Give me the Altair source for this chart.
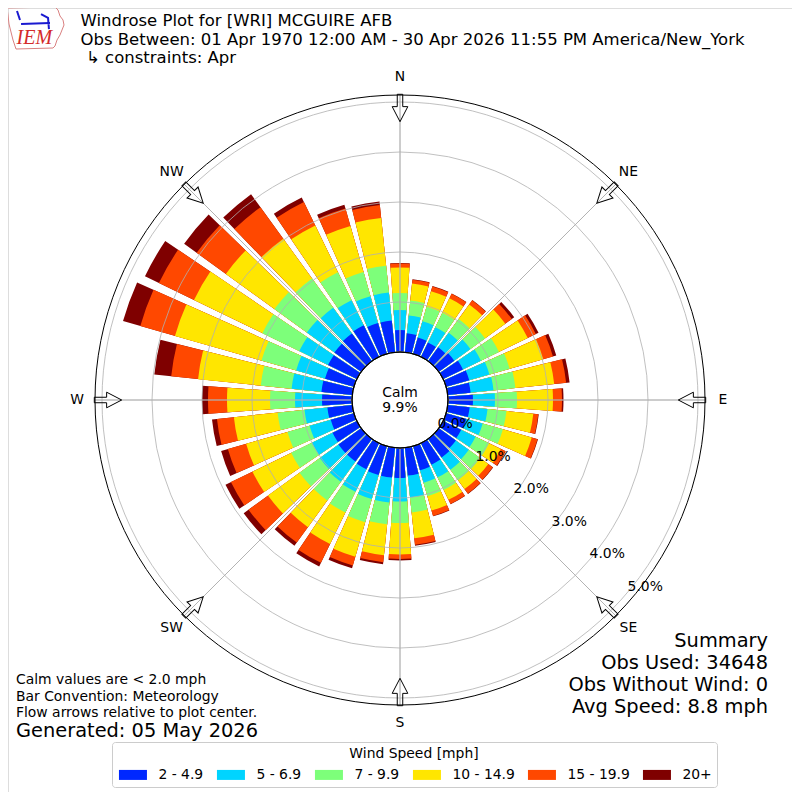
import altair as alt
import numpy as np
import pandas as pd

# ---------------- data ----------------
DIRECTIONS = list(range(0, 360, 10))
SPEED_BINS = ["2 - 4.9", "5 - 6.9", "7 - 9.9", "10 - 14.9", "15 - 19.9", "20+"]
BIN_COLORS = ["#0028ff", "#00d4ff", "#7dff7a", "#ffe600", "#ff4800", "#7f0000"]

# percent of observations per direction (0, 10, ..., 350 deg)
PCT_2_5 = [0.44, 0.38, 0.34, 0.32, 0.34, 0.38, 0.44, 0.48, 0.46, 0.50,
           0.44, 0.42, 0.40, 0.42, 0.46, 0.48, 0.50, 0.56, 0.60, 0.60,
           0.60, 0.58, 0.56, 0.56, 0.54, 0.48, 0.50, 0.60, 0.62, 0.60,
           0.64, 0.66, 0.68, 0.70, 0.64, 0.64]
PCT_5_7 = [0.40, 0.36, 0.34, 0.34, 0.36, 0.40, 0.40, 0.42, 0.46, 0.44,
           0.36, 0.34, 0.32, 0.32, 0.30, 0.28, 0.26, 0.44, 0.47, 0.50,
           0.50, 0.50, 0.50, 0.46, 0.46, 0.44, 0.46, 0.54, 0.60, 0.60,
           0.64, 0.68, 0.64, 0.56, 0.56, 0.56]
PCT_7_10 = [0.34, 0.30, 0.30, 0.32, 0.34, 0.36, 0.40, 0.42, 0.44, 0.44,
            0.38, 0.42, 0.30, 0.28, 0.26, 0.28, 0.28, 0.30, 0.43, 0.44,
            0.48, 0.46, 0.46, 0.50, 0.46, 0.46, 0.54, 0.50, 0.62, 0.72,
            0.82, 0.80, 0.72, 0.62, 0.50, 0.54]
PCT_10_15 = [0.51, 0.34, 0.32, 0.32, 0.36, 0.50, 0.64, 0.70, 0.78, 0.72,
             0.54, 0.60, 0.26, 0.20, 0.22, 0.22, 0.30, 0.52, 0.63, 0.62,
             0.72, 0.70, 0.66, 0.78, 0.86, 0.86, 0.88, 0.86, 1.26, 1.80,
             1.52, 1.20, 0.98, 1.04, 0.96, 0.96]
PCT_15_20 = [0.08, 0.08, 0.10, 0.10, 0.10, 0.16, 0.18, 0.20, 0.24, 0.18,
             0.10, 0.12, 0.10, 0.11, 0.11, 0.09, 0.11, 0.13, 0.09, 0.14,
             0.18, 0.42, 0.38, 0.48, 0.48, 0.38, 0.34, 0.38, 0.54, 0.72,
             0.78, 0.72, 0.78, 0.52, 0.36, 0.26]
PCT_20P = [0.01, 0.01, 0.01, 0.01, 0.01, 0.06, 0.06, 0.07, 0.07, 0.03,
           0.01, 0.01, 0.01, 0.01, 0.01, 0.01, 0.01, 0.02, 0.03, 0.04,
           0.06, 0.08, 0.08, 0.12, 0.12, 0.14, 0.10, 0.12, 0.34, 0.36,
           0.31, 0.31, 0.32, 0.10, 0.08, 0.07]

RING_VALUES = [1, 2, 3, 4, 5]
RING_LABEL_VALUES = [0, 1, 2, 3, 4, 5]
RING_LABELS = ["0.0%", "1.0%", "2.0%", "3.0%", "4.0%", "5.0%"]
COMPASS_NAMES = ["N", "NE", "E", "SE", "S", "SW", "W", "NW"]
COMPASS_ANGLES = [0, 45, 90, 135, 180, 225, 270, 315]
CALM_TEXT = ["Calm", "9.9%"]

TITLE_LINES = ["Windrose Plot for [WRI] MCGUIRE AFB",
               "Obs Between: 01 Apr 1970 12:00 AM - 30 Apr 2026 11:55 PM America/New_York",
               "\u21b3 constraints: Apr"]
FOOT_LINES = ["Calm values are < 2.0 mph", "Bar Convention: Meteorology",
              "Flow arrows relative to plot center."]
GENERATED = "Generated: 05 May 2026"
SUMMARY_LINES = ["Summary", "Obs Used: 34648", "Obs Without Wind: 0", "Avg Speed: 8.8 mph"]

# ---------------- styling ----------------
FONT = "DejaVu Sans"
W = H = 784
R_MAX = 5.14          # outer spine, in percent units
LABEL_R = 5.5         # compass label radius, percent units
HALF_WIDTH = 4.1      # half angular width of a bar, degrees
THETA = alt.Scale(domain=[0, 360], range=[0, 2 * np.pi])
RAD = alt.Scale(type="linear", domain=[0, 5], range=[48, 298])
XPIX = alt.Scale(domain=[-W / 2, W / 2], range=[0, W])
YPIX = alt.Scale(domain=[-H / 2, H / 2], range=[H, 0])
ARROW = "M-0.2,-1L0.2,-1L0.2,-0.1L0.57,-0.1L0,1L-0.57,-0.1L-0.2,-0.1Z"
LEGEND_SYMBOL = "M-1,-1H4.6V1H-1Z"

# ---------------- build the stacked table ----------------
series = np.array([PCT_2_5, PCT_5_7, PCT_7_10, PCT_10_15, PCT_15_20, PCT_20P])
cum = np.cumsum(series, axis=0)
rows = []
for i in reversed(range(len(SPEED_BINS))):   # outermost drawn first
    for j, d in enumerate(DIRECTIONS):
        rows.append({"dir": d, "speed": SPEED_BINS[i], "top": float(cum[i, j])})
bars_df = pd.DataFrame(rows)

bars = alt.Chart(bars_df).transform_calculate(
    t0=f"datum.dir - {HALF_WIDTH}", t1=f"datum.dir + {HALF_WIDTH}", base="0"
).mark_arc().encode(
    theta=alt.Theta("t0:Q", scale=THETA, stack=False),
    theta2="t1:Q",
    radius=alt.Radius("top:Q", scale=RAD, stack=False),
    radius2="base:Q",
    color=alt.Color(
        "speed:N",
        scale=alt.Scale(domain=SPEED_BINS, range=BIN_COLORS),
        legend=alt.Legend(
            title="Wind Speed [mph]", orient="none", legendX=104, legendY=734,
            direction="horizontal", columns=6, symbolType=LEGEND_SYMBOL,
            symbolSize=100, symbolStrokeWidth=0, symbolOpacity=1,
            labelFontSize=13.9, titleFontSize=13.9, titleFontWeight="normal",
            titleAnchor="middle", labelOffset=27.5, columnPadding=11,
            padding=5, strokeColor="#cccccc", cornerRadius=3, titlePadding=7,
            labelFont=FONT, titleFont=FONT, titleColor="black",
            labelColor="black", fillColor="white",
        ),
    ),
)

rings = alt.Chart(pd.DataFrame({"r": RING_VALUES})).transform_calculate(
    t0="0", t1="360"
).mark_arc(filled=False, stroke="#b0b0b0", strokeWidth=0.8).encode(
    theta=alt.Theta("t0:Q", scale=THETA, stack=False),
    theta2="t1:Q",
    radius=alt.Radius("r:Q", scale=RAD, stack=False),
)

spokes = alt.Chart(pd.DataFrame({"angle": COMPASS_ANGLES})).transform_calculate(
    rmax=str(R_MAX), base="0"
).mark_arc(filled=False, stroke="#b0b0b0", strokeWidth=0.8).encode(
    theta=alt.Theta("angle:Q", scale=THETA, stack=False),
    theta2="angle:Q",
    radius=alt.Radius("rmax:Q", scale=RAD, stack=False),
    radius2="base:Q",
)

calm = alt.Chart(pd.DataFrame({"r": [0]})).transform_calculate(
    t0="0", t1="360"
).mark_arc(fill="white", stroke="black", strokeWidth=1.1).encode(
    theta=alt.Theta("t0:Q", scale=THETA, stack=False),
    theta2="t1:Q",
    radius=alt.Radius("r:Q", scale=RAD, stack=False),
)

spine = alt.Chart(pd.DataFrame({"r": [R_MAX]})).transform_calculate(
    t0="0", t1="360"
).mark_arc(filled=False, stroke="black", strokeWidth=1).encode(
    theta=alt.Theta("t0:Q", scale=THETA, stack=False),
    theta2="t1:Q",
    radius=alt.Radius("r:Q", scale=RAD, stack=False),
)

arrows = alt.Chart(pd.DataFrame({"angle": COMPASS_ANGLES})).transform_calculate(
    ax="292*sin(datum.angle*PI/180)", ay="292*cos(datum.angle*PI/180)"
).mark_point(shape=ARROW, size=750, filled=False, stroke="black",
             strokeWidth=1, opacity=1).encode(
    x=alt.X("ax:Q", scale=XPIX, axis=None),
    y=alt.Y("ay:Q", scale=YPIX, axis=None),
    angle=alt.Angle("angle:Q", scale=None),
)

compass = alt.Chart(pd.DataFrame({"angle": COMPASS_ANGLES, "name": COMPASS_NAMES})).transform_calculate(
    r=str(LABEL_R)
).mark_text(font=FONT, fontSize=13.9, color="black", baseline="middle", align="center").encode(
    theta=alt.Theta("angle:Q", scale=THETA, stack=False),
    radius=alt.Radius("r:Q", scale=RAD, stack=False),
    text="name:N",
)

ring_text = alt.Chart(pd.DataFrame({"r": RING_LABEL_VALUES, "lab": RING_LABELS})).transform_calculate(
    angle="130.5"
).mark_text(font=FONT, fontSize=13.9, color="black", baseline="bottom", align="left", dx=1).encode(
    theta=alt.Theta("angle:Q", scale=THETA, stack=False),
    radius=alt.Radius("r:Q", scale=RAD, stack=False),
    text="lab:N",
)


def text_at(txt, x, y, size, align="left", font=FONT, color="black", style="normal"):
    return alt.Chart(pd.DataFrame({"t": [txt]})).mark_text(
        font=font, fontSize=size, align=align, baseline="alphabetic",
        color=color, fontStyle=style,
    ).encode(x=alt.value(x), y=alt.value(y), text="t:N")


texts = [
    text_at(TITLE_LINES[0], 72.5, 18, 16.5),
    text_at(TITLE_LINES[1], 72.5, 36.5, 16.5),
    text_at(TITLE_LINES[2], 78, 54.5, 16.5),
    text_at(CALM_TEXT[0], 392, 388.7, 13.9, align="center"),
    text_at(CALM_TEXT[1], 392, 403.7, 13.9, align="center"),
    text_at(FOOT_LINES[0], 8, 676, 13.9),
    text_at(FOOT_LINES[1], 8, 693, 13.9),
    text_at(FOOT_LINES[2], 8, 709, 13.9),
    text_at(GENERATED, 8, 729, 19.4),
    text_at(SUMMARY_LINES[0], 760, 639, 19.4, align="right"),
    text_at(SUMMARY_LINES[1], 760, 661, 19.4, align="right"),
    text_at(SUMMARY_LINES[2], 760, 683, 19.4, align="right"),
    text_at(SUMMARY_LINES[3], 760, 705, 19.4, align="right"),
    text_at("IEM", 8.5, 36, 20, font="Liberation Serif", color="#d42a2a", style="italic"),
]

IOWA = ("M-0.95,-0.667L0.65,-0.7L0.75,-0.6L0.817,-0.4L0.917,-0.267L0.95,-0.1"
        "L0.883,0.067L0.817,0.233L0.717,0.4L0.65,0.6L0.583,0.667L-0.65,0.7"
        "L-0.75,0.4L-0.817,0.133L-0.883,-0.133L-0.917,-0.433Z")
FIGURE = "M-1.2,-0.73L-1,-0.13M-0.93,0.13L1,0.07M0.4,-0.53L0.87,-0.27L0.93,0.47"

logo_outline = alt.Chart(pd.DataFrame({"k": [0]})).mark_point(
    shape=IOWA, size=3600, filled=False, stroke="#d98080", strokeWidth=1, opacity=1
).encode(x=alt.value(27.5), y=alt.value(20))
logo_figure = alt.Chart(pd.DataFrame({"k": [0]})).mark_point(
    shape=FIGURE, size=900, filled=False, stroke="#1a1ad0", strokeWidth=2, opacity=1
).encode(x=alt.value(27), y=alt.value(14))

chart = alt.layer(
    bars, rings, spokes, spine, calm, arrows, compass, ring_text,
    logo_outline, logo_figure, *texts
).properties(
    width=W, height=H, padding=0, autosize=alt.AutoSizeParams(type="none")
).configure_view(stroke=None).configure(font=FONT, background="white")

chart.save("out.html", embed_options={"renderer": "svg", "actions": False})
